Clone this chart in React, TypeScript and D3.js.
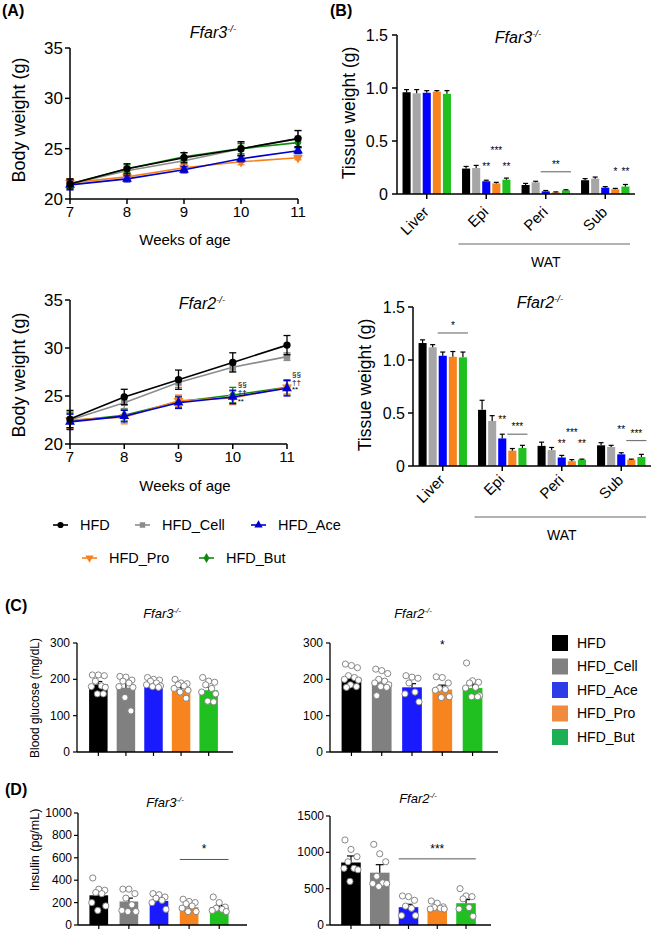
import React from "react";
import * as d3 from "d3";

const FONT = "'Liberation Sans', Arial, Helvetica, sans-serif";

// ---------- shared categories ----------
const groups = ["HFD", "HFD_Cell", "HFD_Ace", "HFD_Pro", "HFD_But"];
const weeks = [7, 8, 9, 10, 11];
const tissues = ["Liver", "Epi", "Peri", "Sub"];

// ---------- (A) body weight ----------
const bwTicks = [20, 25, 30, 35];
const bwF3Mean = [
  [21.5, 23.0, 24.1, 25.0, 26.0],
  [21.5, 22.8, 23.8, 25.0, 26.0],
  [21.4, 22.0, 22.9, 24.0, 24.8],
  [21.6, 22.2, 23.1, 23.7, 24.1],
  [21.5, 23.0, 24.2, 25.0, 25.6],
];
const bwF3Err = [
  [0.5, 0.5, 0.5, 0.7, 0.8],
  [0.5, 0.4, 0.4, 0.6, 0.8],
  [0.5, 0.3, 0.3, 0.3, 0.3],
  [0.4, 0.3, 0.3, 0.3, 0.2],
  [0.4, 0.4, 0.4, 0.5, 0.5],
];
const bwF2Mean = [
  [22.6, 24.9, 26.7, 28.5, 30.3],
  [22.5, 24.3, 26.4, 28.0, 29.1],
  [22.3, 22.9, 24.3, 24.9, 25.8],
  [22.5, 22.8, 24.5, 24.8, 25.9],
  [22.4, 23.0, 24.4, 25.1, 25.9],
];
const bwF2Err = [
  [0.9, 0.8, 1.0, 1.0, 1.0],
  [0.8, 0.6, 0.5, 0.4, 0.4],
  [0.8, 0.6, 0.6, 0.7, 0.8],
  [0.9, 0.7, 0.6, 0.7, 0.7],
  [0.8, 0.6, 0.6, 0.8, 0.8],
];
const bwF2Annot = [
  { w: 10, v: 26.25, t: "§§" },
  { w: 10, v: 25.4, t: "††" },
  { w: 10, v: 24.5, t: "**" },
  { w: 11, v: 27.3, t: "§§" },
  { w: 11, v: 26.5, t: "††" },
  { w: 11, v: 25.7, t: "**" },
];

// ---------- (B) tissue weight ----------
const twTicks = [0, 0.5, 1.0, 1.5];
const twF3Mean = [
  [0.96, 0.95, 0.955, 0.965, 0.945],
  [0.24, 0.245, 0.12, 0.1, 0.135],
  [0.085, 0.11, 0.025, 0.015, 0.035],
  [0.13, 0.145, 0.06, 0.045, 0.07],
];
const twF3Err = [
  [0.025, 0.035, 0.02, 0.01, 0.03],
  [0.02, 0.025, 0.01, 0.01, 0.015],
  [0.015, 0.01, 0.008, 0.005, 0.005],
  [0.015, 0.015, 0.01, 0.008, 0.02],
];
const twF3Sig = [
  { t: 1, b0: 2, b1: 2, v: 0.27, s: "**", line: false },
  { t: 1, b0: 3, b1: 3, v: 0.42, s: "***", line: false },
  { t: 1, b0: 4, b1: 4, v: 0.27, s: "**", line: false },
  { t: 2, b0: 2, b1: 4, v: 0.21, s: "**", line: true },
  { t: 3, b0: 3, b1: 3, v: 0.23, s: "*", line: false },
  { t: 3, b0: 4, b1: 4, v: 0.23, s: "**", line: false },
];
const twF2Mean = [
  [1.16, 1.12, 1.04, 1.03, 1.025],
  [0.53, 0.425, 0.26, 0.145, 0.17],
  [0.19, 0.15, 0.08, 0.045, 0.06],
  [0.195, 0.18, 0.11, 0.06, 0.085],
];
const twF2Err = [
  [0.03, 0.025, 0.035, 0.05, 0.05],
  [0.09, 0.05, 0.04, 0.02, 0.025],
  [0.035, 0.025, 0.02, 0.015, 0.005],
  [0.025, 0.015, 0.015, 0.005, 0.025],
];
const twF2Sig = [
  { t: 0, b0: 2, b1: 4, v: 1.255, s: "*", line: true },
  { t: 1, b0: 2, b1: 2, v: 0.45, s: "**", line: false },
  { t: 1, b0: 3, b1: 4, v: 0.3, s: "***", line: true },
  { t: 2, b0: 2, b1: 2, v: 0.23, s: "**", line: false },
  { t: 2, b0: 3, b1: 3, v: 0.33, s: "***", line: false },
  { t: 2, b0: 4, b1: 4, v: 0.23, s: "**", line: false },
  { t: 3, b0: 2, b1: 2, v: 0.36, s: "**", line: false },
  { t: 3, b0: 3, b1: 4, v: 0.24, s: "***", line: true },
];

// ---------- (C) blood glucose ----------
const bgTicks = [0, 100, 200, 300];
const bgF3Mean = [186, 177, 188, 172, 170];
const bgF3Err = [8, 12, 5, 6, 8];
const bgF3Pts = [
  [212, 212, 210, 195, 182, 180, 178, 160, 160],
  [208, 206, 198, 195, 190, 180, 178, 150, 113],
  [205, 200, 198, 195, 190, 185, 182, 180, 178],
  [200, 190, 188, 185, 182, 175, 170, 165, 148],
  [205, 195, 192, 185, 175, 165, 160, 140, 138],
];
const bgF2Mean = [204, 192, 178, 172, 176];
const bgF2Err = [6, 8, 10, 12, 10];
const bgF2Pts = [
  [242, 238, 232, 210, 205, 200, 198, 185, 180, 178],
  [228, 224, 216, 200, 195, 190, 185, 180, 178, 155],
  [210, 206, 203, 190, 165, 160, 138],
  [207, 205, 190, 175, 172, 170, 152, 150],
  [245, 196, 192, 190, 178, 176, 155, 152, 152],
];
const bgF2Sig = [{ b0: 3, b1: 3, v: 300, s: "*", line: false }];

// ---------- (D) insulin ----------
const insF3Ticks = [0, 200, 400, 600, 800, 1000];
const insF3Mean = [265, 210, 215, 160, 160];
const insF3Err = [35, 30, 20, 15, 15];
const insF3Pts = [
  [420, 320, 310, 290, 280, 200, 170, 130],
  [320, 320, 280, 240, 180, 130, 120, 120],
  [280, 270, 250, 240, 220, 200, 140],
  [230, 210, 200, 190, 170, 150, 120, 120],
  [250, 200, 160, 150, 140, 130, 120],
];
const insF3Sig = [{ b0: 3, b1: 4, v: 585, s: "*", line: true }];
const insF2Ticks = [0, 500, 1000, 1500];
const insF2Mean = [860, 720, 245, 230, 300];
const insF2Err = [90, 110, 40, 20, 50];
const insF2Pts = [
  [1170, 1040, 940, 870, 780, 780, 760, 600],
  [1110, 980, 870, 670, 580, 570, 570, 530],
  [400, 390, 340, 260, 230, 130, 130],
  [330, 300, 250, 240, 230, 220, 220],
  [500, 400, 390, 360, 240, 220, 120],
];
const insF2Sig = [{ b0: 2, b1: 4, v: 910, s: "***", line: true }];

// ---------- colours ----------
const lineColors = ["#000000", "#8c8c8c", "#0000cc", "#f5821f", "#0f8a0f"];
const barColorsB = ["#000000", "#a6a6a6", "#0000ff", "#f7841f", "#1fc01f"];
const barColorsC = ["#000000", "#808080", "#1a1aff", "#f7841f", "#1fc01f"];
const legendColorsC = ["#000000", "#808080", "#2b3ee6", "#f08a3c", "#1daf55"];

const symbolTypes = [d3.symbolCircle, d3.symbolSquare, d3.symbolTriangle, d3.symbolTriangle, d3.symbolDiamond];
const jitter = [-6, 0, 6, -3, 3, -7, 7, -1, 5, -5];

function GeneTitle({ x, y, gene, size }: any) {
  return (
    <text x={x} y={y} textAnchor="middle" fontStyle="italic" fontSize={size}>
      {gene}
      <tspan fontSize={size * 0.6} dy={-size * 0.38}>-/-</tspan>
    </text>
  );
}

function Marker({ g, x, y, size }: any) {
  const p = d3.symbol().type(symbolTypes[g]).size(size)() as string;
  return <path d={p} transform={`translate(${x},${y})${g === 3 ? " rotate(180)" : ""}`} fill={lineColors[g]} />;
}

function LinePanel({ left, right, top, bottom, means, errs, annots }: any) {
  const x = d3.scaleLinear().domain([7, 11]).range([left, right]);
  const y = d3.scaleLinear().domain([20, 35]).range([bottom, top]);
  const line = d3.line<number>().x((_, i) => x(weeks[i])).y((d) => y(d));
  const order = [1, 4, 3, 2, 0];
  return (
    <g>
      {order.map((g) => (
        <g key={g}>
          <path d={line(means[g]) as string} fill="none" stroke={lineColors[g]} strokeWidth={1.6} />
          {means[g].map((m: number, i: number) => {
            const cx = x(weeks[i]);
            const e = errs[g][i];
            return (
              <g key={i} stroke={lineColors[g]} strokeWidth={1.3}>
                <line x1={cx} x2={cx} y1={y(m - e)} y2={y(m + e)} />
                <line x1={cx - 3.5} x2={cx + 3.5} y1={y(m - e)} y2={y(m - e)} />
                <line x1={cx - 3.5} x2={cx + 3.5} y1={y(m + e)} y2={y(m + e)} />
              </g>
            );
          })}
          {means[g].map((m: number, i: number) => (
            <Marker key={"m" + i} g={g} x={x(weeks[i])} y={y(m)} size={42} />
          ))}
        </g>
      ))}
      {(annots || []).map((a: any, i: number) => (
        <text key={i} x={x(a.w) + 5} y={y(a.v) + 3} fontSize={8}>{a.t}</text>
      ))}
      <line x1={left} x2={left} y1={top} y2={bottom} stroke="#000" strokeWidth={1.5} />
      <line x1={left} x2={right} y1={bottom} y2={bottom} stroke="#000" strokeWidth={1.5} />
      {bwTicks.map((t) => (
        <g key={t}>
          <line x1={left - 5} x2={left} y1={y(t)} y2={y(t)} stroke="#000" strokeWidth={1.5} />
          <text x={left - 7} y={y(t)} dy="0.35em" textAnchor="end" fontSize={17}>{t}</text>
        </g>
      ))}
      {weeks.map((w) => (
        <g key={w}>
          <line x1={x(w)} x2={x(w)} y1={bottom} y2={bottom + 5} stroke="#000" strokeWidth={1.5} />
          <text x={x(w)} y={bottom + 18} textAnchor="middle" fontSize={15}>{w}</text>
        </g>
      ))}
    </g>
  );
}

function TissuePanel({ left, right, top, bottom, means, errs, sigs, labelDy, watLineY, watTextY, tickGap }: any) {
  const outer = d3.scaleBand().domain(tissues).range([left, right]).padding(0);
  const inner = d3.scaleBand().domain(groups).range([0, outer.bandwidth()]).paddingInner(0.2).paddingOuter(0.55);
  const y = d3.scaleLinear().domain([0, 1.5]).range([bottom, top]);
  const bw = inner.bandwidth();
  const bx = (t: number, b: number) => (outer(tissues[t]) as number) + (inner(groups[b]) as number);
  return (
    <g>
      {means.map((row: number[], t: number) =>
        row.map((m, b) => {
          const x0 = bx(t, b);
          const cx = x0 + bw / 2;
          const e = errs[t][b];
          return (
            <g key={t + "-" + b}>
              <rect x={x0} y={y(m)} width={bw} height={bottom - y(m)} fill={barColorsB[b]} />
              <line x1={cx} x2={cx} y1={y(m)} y2={y(m + e)} stroke="#000" strokeWidth={1.2} />
              <line x1={cx - 2.5} x2={cx + 2.5} y1={y(m + e)} y2={y(m + e)} stroke="#000" strokeWidth={1.2} />
            </g>
          );
        })
      )}
      {sigs.map((s: any, i: number) => {
        const xa = bx(s.t, s.b0);
        const xb = bx(s.t, s.b1) + bw;
        const cx = (xa + xb) / 2;
        return (
          <g key={i}>
            {s.line && <line x1={xa - 1} x2={xb + 1} y1={y(s.v)} y2={y(s.v)} stroke="#777" strokeWidth={1.2} />}
            <text x={cx} y={s.line ? y(s.v) - 4 : y(s.v) + 5} textAnchor="middle" fontSize={10}>{s.s}</text>
          </g>
        );
      })}
      <line x1={left} x2={left} y1={top} y2={bottom} stroke="#000" strokeWidth={1.5} />
      <line x1={left} x2={right} y1={bottom} y2={bottom} stroke="#000" strokeWidth={1.5} />
      {twTicks.map((t) => (
        <g key={t}>
          <line x1={left - 5} x2={left} y1={y(t)} y2={y(t)} stroke="#000" strokeWidth={1.5} />
          <text x={left - tickGap} y={y(t)} dy="0.35em" textAnchor="end" fontSize={16}>{t === 0 ? "0" : t.toFixed(1)}</text>
        </g>
      ))}
      {tissues.map((tn) => {
        const cx = (outer(tn) as number) + outer.bandwidth() / 2;
        return (
          <g key={tn}>
            <line x1={cx} x2={cx} y1={bottom} y2={bottom + 5} stroke="#000" strokeWidth={1.5} />
            <text transform={`translate(${cx + 3},${bottom + labelDy}) rotate(-45)`} textAnchor="end" fontSize={15}>{tn}</text>
          </g>
        );
      })}
      <line
        x1={(outer("Epi") as number) + 2}
        x2={right - 5}
        y1={watLineY}
        y2={watLineY}
        stroke="#666"
        strokeWidth={1}
      />
      <text x={((outer("Epi") as number) + right) / 2} y={watTextY} textAnchor="middle" fontSize={14}>WAT</text>
    </g>
  );
}

function DotBarPanel({ axisX, axisRight, bandRange, padding, bottom, top, yMax, ticks, means, errs, pts, sigs, tickGap, tickFont }: any) {
  const x = d3.scaleBand().domain(groups).range(bandRange).padding(padding);
  const y = d3.scaleLinear().domain([0, yMax]).range([bottom, top]);
  const bw = x.bandwidth();
  return (
    <g>
      {means.map((m: number, b: number) => {
        const x0 = x(groups[b]) as number;
        const cx = x0 + bw / 2;
        const e = errs[b];
        return (
          <g key={b}>
            <rect x={x0} y={y(m)} width={bw} height={bottom - y(m)} fill={barColorsC[b]} />
            <line x1={cx} x2={cx} y1={y(m)} y2={y(m + e)} stroke="#000" strokeWidth={1.2} />
            <line x1={cx - 4} x2={cx + 4} y1={y(m + e)} y2={y(m + e)} stroke="#000" strokeWidth={1.2} />
          </g>
        );
      })}
      {pts.map((arr: number[], b: number) => {
        const cx = (x(groups[b]) as number) + bw / 2;
        return arr.map((v, i) => (
          <circle key={b + "-" + i} cx={cx + jitter[i % jitter.length]} cy={y(v)} r={3.1} fill="#fff" stroke="#7a7a7a" strokeWidth={0.9} />
        ));
      })}
      {(sigs || []).map((s: any, i: number) => {
        const xa = x(groups[s.b0]) as number;
        const xb = (x(groups[s.b1]) as number) + bw;
        const cx = (xa + xb) / 2;
        return (
          <g key={i}>
            {s.line && <line x1={xa} x2={xb} y1={y(s.v)} y2={y(s.v)} stroke="#555" strokeWidth={1} />}
            <text x={cx} y={s.line ? y(s.v) - 6 : y(s.v) + 6} textAnchor="middle" fontSize={12}>{s.s}</text>
          </g>
        );
      })}
      <line x1={axisX} x2={axisX} y1={top} y2={bottom} stroke="#000" strokeWidth={1.3} />
      <line x1={axisX} x2={axisRight} y1={bottom} y2={bottom} stroke="#000" strokeWidth={1.3} />
      {ticks.map((t: number) => (
        <g key={t}>
          <line x1={axisX - 4} x2={axisX} y1={y(t)} y2={y(t)} stroke="#000" strokeWidth={1.2} />
          <text x={axisX - tickGap} y={y(t)} dy="0.33em" textAnchor="end" fontSize={tickFont}>{t}</text>
        </g>
      ))}
      {groups.map((g) => {
        const cx = (x(g) as number) + bw / 2;
        return <line key={g} x1={cx} x2={cx} y1={bottom} y2={bottom + 4} stroke="#000" strokeWidth={1.2} />;
      })}
    </g>
  );
}

const legendA = [
  { g: 0, x: 53, y: 525 },
  { g: 1, x: 135, y: 525 },
  { g: 2, x: 251, y: 525 },
  { g: 3, x: 82, y: 558 },
  { g: 4, x: 199, y: 558 },
];

export default function App() {
  return (
    <svg
      width={652}
      height={932}
      style={{ position: "absolute", left: 0, top: 0, background: "#fff" }}
      fontFamily={FONT}
    >
      <rect width={652} height={932} fill="#fff" />

      {/* (A) */}
      <text x={2} y={16} fontWeight="bold" fontSize={16}>(A)</text>
      <GeneTitle x={213} y={38} gene="Ffar3" size={16} />
      <LinePanel left={70} right={298} top={48} bottom={199} means={bwF3Mean} errs={bwF3Err} />
      <text transform="translate(25,120) rotate(-90)" textAnchor="middle" fontSize={18}>Body weight (g)</text>
      <text x={185} y={245} textAnchor="middle" fontSize={15}>Weeks of age</text>

      <GeneTitle x={202} y={309} gene="Ffar2" size={16} />
      <LinePanel left={70} right={287} top={300} bottom={444} means={bwF2Mean} errs={bwF2Err} annots={bwF2Annot} />
      <text transform="translate(25,375) rotate(-90)" textAnchor="middle" fontSize={18}>Body weight (g)</text>
      <text x={185} y={491} textAnchor="middle" fontSize={15}>Weeks of age</text>

      {legendA.map((l) => (
        <g key={l.g}>
          <line x1={l.x} x2={l.x + 15} y1={l.y} y2={l.y} stroke={lineColors[l.g]} strokeWidth={1.6} />
          <Marker g={l.g} x={l.x + 7.5} y={l.y} size={30} />
          <text x={l.x + 27} y={l.y} dy="0.35em" fontSize={14.5}>{groups[l.g]}</text>
        </g>
      ))}

      {/* (B) */}
      <text x={330} y={16} fontWeight="bold" fontSize={16}>(B)</text>
      <GeneTitle x={518} y={43} gene="Ffar3" size={16} />
      <TissuePanel
        left={397} right={635} top={35} bottom={194}
        means={twF3Mean} errs={twF3Err} sigs={twF3Sig}
        labelDy={19} watLineY={244} watTextY={267} tickGap={9}
      />
      <text transform="translate(355,113) rotate(-90)" textAnchor="middle" fontSize={17.5}>Tissue weight (g)</text>

      <GeneTitle x={540} y={308} gene="Ffar2" size={16} />
      <TissuePanel
        left={413} right={651} top={307} bottom={466}
        means={twF2Mean} errs={twF2Err} sigs={twF2Sig}
        labelDy={15} watLineY={517} watTextY={540} tickGap={8}
      />
      <text transform="translate(371,385) rotate(-90)" textAnchor="middle" fontSize={17.5}>Tissue weight (g)</text>

      {/* (C) */}
      <text x={5} y={611} fontWeight="bold" fontSize={16}>(C)</text>
      <GeneTitle x={162} y={618} gene="Ffar3" size={13} />
      <DotBarPanel
        axisX={77} axisRight={233} bandRange={[80, 227]} padding={0.33}
        bottom={752} top={643} yMax={300} ticks={bgTicks}
        means={bgF3Mean} errs={bgF3Err} pts={bgF3Pts} sigs={[]} tickGap={7} tickFont={12}
      />
      <text transform="translate(39,698) rotate(-90)" textAnchor="middle" fontSize={12}>Blood glucose (mg/dL)</text>

      <GeneTitle x={413} y={618} gene="Ffar2" size={13} />
      <DotBarPanel
        axisX={330} axisRight={498} bandRange={[331, 493]} padding={0.35}
        bottom={752} top={643} yMax={300} ticks={bgTicks}
        means={bgF2Mean} errs={bgF2Err} pts={bgF2Pts} sigs={bgF2Sig} tickGap={7} tickFont={12}
      />

      {groups.map((g, i) => (
        <g key={g}>
          <rect x={552} y={643 + i * 23.5 - 8} width={16} height={16} fill={legendColorsC[i]} />
          <text x={577} y={643 + i * 23.5} dy="0.35em" fontSize={14}>{g}</text>
        </g>
      ))}

      {/* (D) */}
      <text x={5} y={795} fontWeight="bold" fontSize={16}>(D)</text>
      <GeneTitle x={165} y={807} gene="Ffar3" size={13} />
      <DotBarPanel
        axisX={78} axisRight={247} bandRange={[78, 240]} padding={0.38}
        bottom={925} top={813} yMax={1000} ticks={insF3Ticks}
        means={insF3Mean} errs={insF3Err} pts={insF3Pts} sigs={insF3Sig} tickGap={6} tickFont={12}
      />
      <text transform="translate(39,850) rotate(-90)" textAnchor="middle" fontSize={12.5}>Insulin (pg/mL)</text>

      <GeneTitle x={418} y={803} gene="Ffar2" size={13} />
      <DotBarPanel
        axisX={330} axisRight={491} bandRange={[332, 485]} padding={0.32}
        bottom={925} top={816} yMax={1500} ticks={insF2Ticks}
        means={insF2Mean} errs={insF2Err} pts={insF2Pts} sigs={insF2Sig} tickGap={6} tickFont={12}
      />
    </svg>
  );
}
